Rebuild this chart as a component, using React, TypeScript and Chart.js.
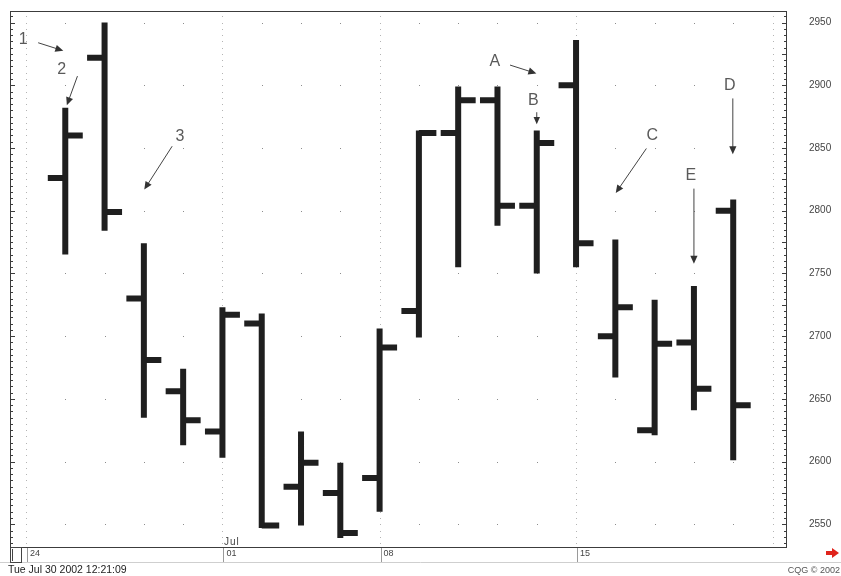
import { useEffect, useRef } from 'react';
import { Chart, registerables } from 'chart.js';

Chart.register(...registerables);

// ---- data ----
const sessions = ['Jun 24', 'Jun 25', 'Jun 26', 'Jun 27', 'Jun 28', 'Jul 01', 'Jul 02', 'Jul 03', 'Jul 05', 'Jul 08', 'Jul 09', 'Jul 10', 'Jul 11', 'Jul 12', 'Jul 15', 'Jul 16', 'Jul 17', 'Jul 18', 'Jul 19', 'Jul 22'];
const opens = [null, 2826, 2922, 2730, 2656, 2624, 2710, 2580, 2575, 2587, 2720, 2862, 2888, 2804, 2900, 2700, 2625, 2695, 2800, null];
const highs = [null, 2882, 2950, 2774, 2674, 2723, 2718, 2624, 2599, 2706, 2864, 2899, 2899, 2864, 2936, 2777, 2729, 2740, 2809, null];
const lows = [null, 2765, 2784, 2635, 2613, 2603, 2547, 2549, 2539, 2560, 2699, 2755, 2788, 2750, 2755, 2667, 2621, 2641, 2601, null];
const closes = [null, 2860, 2799, 2681, 2633, 2717, 2549, 2599, 2543, 2691, 2862, 2888, 2804, 2854, 2774, 2723, 2694, 2658, 2645, null];

const weekStartIdx = [0, 5, 9, 14];
const weekLabels = ['24', '01', '08', '15'];
const weekLines = [0, 5, 9, 14, 19];
const monthLabel = 'Jul';
const monthIdx = 5;
const priceTicks = [2550, 2600, 2650, 2700, 2750, 2800, 2850, 2900, 2950];

const noteLabels = ['1', '2', '3', 'A', 'B', 'C', 'D', 'E'];
const noteX = [-0.07, 0.91, 3.92, 11.93, 12.91, 15.94, 17.91, 16.92];
const noteY = [2936.6, 2912.6, 2859.4, 2918.6, 2888.1, 2860.2, 2899.5, 2828.2];
const arrowFromX = [0.31, 1.31, 3.72, 12.32, 13.0, 15.79, 17.99, 17.0];
const arrowFromY = [2933.9, 2907.3, 2851.4, 2916.1, 2878.5, 2849.6, 2889.5, 2817.6];
const arrowToX = [0.95, 1.04, 3.01, 12.99, 13.0, 15.01, 17.99, 17.0];
const arrowToY = [2927.5, 2884.1, 2816.8, 2909.4, 2869.0, 2814.1, 2845.0, 2757.7];

const timestamp = 'Tue Jul 30 2002 12:21:09';
const copyright = 'CQG \u00A9 2002';

// ---- rendering ----
const FONT = '"Liberation Sans", Arial, Helvetica, sans-serif';
const TICK = 0.445;
const BAR = '#1f1f1f';

type P = { x: number; y: number | null };
const rangePts: P[] = [];
const openPts: P[] = [];
const closePts: P[] = [];
sessions.forEach((_, i) => {
  if (highs[i] == null) return;
  rangePts.push({ x: i, y: lows[i] }, { x: i, y: highs[i] }, { x: i, y: null });
  openPts.push({ x: i - TICK, y: opens[i] }, { x: i, y: opens[i] }, { x: i, y: null });
  closePts.push({ x: i, y: closes[i] }, { x: i + TICK, y: closes[i] }, { x: i + TICK, y: null });
});

function arrow(ctx: CanvasRenderingContext2D, x1: number, y1: number, x2: number, y2: number) {
  const ang = Math.atan2(y2 - y1, x2 - x1);
  const len = Math.hypot(x2 - x1, y2 - y1);
  const head = Math.min(8, len * 0.6);
  const hw = head * 0.45;
  ctx.beginPath();
  ctx.moveTo(x1, y1);
  ctx.lineTo(x2 - Math.cos(ang) * head * 0.8, y2 - Math.sin(ang) * head * 0.8);
  ctx.stroke();
  ctx.beginPath();
  ctx.moveTo(x2, y2);
  ctx.lineTo(x2 - Math.cos(ang) * head + Math.sin(ang) * hw, y2 - Math.sin(ang) * head - Math.cos(ang) * hw);
  ctx.lineTo(x2 - Math.cos(ang) * head - Math.sin(ang) * hw, y2 - Math.sin(ang) * head + Math.cos(ang) * hw);
  ctx.closePath();
  ctx.fill();
}

const decor = {
  id: 'decor',
  beforeDraw(chart: any) {
    const { ctx, chartArea: a, scales } = chart;
    const x = scales.x, y = scales.y;
    ctx.save();
    ctx.fillStyle = '#ffffff';
    ctx.fillRect(0, 0, chart.width, chart.height);
    // grid dots
    ctx.fillStyle = '#8c8c8c';
    for (let i = 0; i < sessions.length; i++) {
      const px = Math.round(x.getPixelForValue(i));
      for (const v of priceTicks) {
        ctx.fillRect(px, Math.round(y.getPixelForValue(v)), 1, 1);
      }
    }
    // dotted week separators
    ctx.fillStyle = '#b4b4b4';
    for (const i of weekLines) {
      const px = Math.round(x.getPixelForValue(i));
      for (let v = 2535; v <= 2955; v += 5) {
        const py = Math.round(y.getPixelForValue(v));
        if (py > a.top && py < a.bottom) ctx.fillRect(px, py, 1, 1);
      }
    }
    ctx.restore();
  },
  afterDraw(chart: any) {
    const { ctx, chartArea: a, scales } = chart;
    const x = scales.x, y = scales.y;
    ctx.save();
    // frame
    ctx.strokeStyle = '#3c3c3c';
    ctx.lineWidth = 1;
    ctx.strokeRect(a.left + 0.5, a.top + 0.5, a.right - a.left - 1, a.bottom - a.top);
    // border ticks
    ctx.beginPath();
    for (let v = 2535; v <= 2955; v += 5) {
      const py = Math.round(y.getPixelForValue(v)) + 0.5;
      if (py <= a.top + 1 || py >= a.bottom - 1) continue;
      const lenL = v % 50 === 0 ? 5 : 3;
      const lenR = v % 25 === 0 ? 5 : 3;
      ctx.moveTo(a.left, py);
      ctx.lineTo(a.left + lenL, py);
      ctx.moveTo(a.right, py);
      ctx.lineTo(a.right - lenR, py);
    }
    ctx.stroke();
    // date row
    ctx.strokeStyle = '#cfcfcf';
    ctx.beginPath();
    ctx.moveTo(0, a.bottom + 15.5);
    ctx.lineTo(chart.width, a.bottom + 15.5);
    ctx.stroke();
    ctx.strokeStyle = '#9a9a9a';
    ctx.beginPath();
    for (const i of weekStartIdx) {
      const px = Math.round(x.getPixelForValue(i)) + 1.5;
      ctx.moveTo(px, a.bottom + 1);
      ctx.lineTo(px, a.bottom + 15);
    }
    ctx.stroke();
    ctx.strokeStyle = '#444';
    ctx.strokeRect(a.left + 0.5, a.bottom + 0.5, 11, 15);
    ctx.beginPath();
    ctx.moveTo(a.left + 2.5, a.bottom + 2);
    ctx.lineTo(a.left + 2.5, a.bottom + 14);
    ctx.stroke();
    // red arrow
    ctx.fillStyle = '#e0241c';
    ctx.fillRect(826, 551, 7, 4);
    ctx.beginPath();
    ctx.moveTo(832, 548);
    ctx.lineTo(839, 553);
    ctx.lineTo(832, 558);
    ctx.closePath();
    ctx.fill();
    // texts
    ctx.textBaseline = 'middle';
    ctx.textAlign = 'left';
    ctx.fillStyle = '#444';
    ctx.font = `10px ${FONT}`;
    (ctx as any).letterSpacing = '1px';
    ctx.fillText(monthLabel, Math.round(x.getPixelForValue(monthIdx)) + 2, a.bottom - 5);
    (ctx as any).letterSpacing = '0px';
    ctx.fillStyle = '#222';
    ctx.font = `10.5px ${FONT}`;
    ctx.fillText(timestamp, 8, 570);
    ctx.textAlign = 'right';
    ctx.fillStyle = '#555';
    ctx.font = `9px ${FONT}`;
    ctx.fillText(copyright, 840, 571);
    // annotations
    ctx.strokeStyle = '#444';
    ctx.lineWidth = 1;
    ctx.font = `16px ${FONT}`;
    ctx.textAlign = 'center';
    noteLabels.forEach((t, k) => {
      ctx.fillStyle = '#5a5a5a';
      ctx.fillText(t, x.getPixelForValue(noteX[k]), y.getPixelForValue(noteY[k]));
      ctx.fillStyle = '#333';
      arrow(ctx, x.getPixelForValue(arrowFromX[k]), y.getPixelForValue(arrowFromY[k]), x.getPixelForValue(arrowToX[k]), y.getPixelForValue(arrowToY[k]));
    });
    ctx.restore();
  },
};

const lineDs = (data: P[]) => ({
  data,
  borderColor: BAR,
  backgroundColor: BAR,
  borderWidth: 6,
  pointRadius: 0,
  pointHoverRadius: 0,
  tension: 0,
  fill: false,
  spanGaps: false,
  borderCapStyle: 'butt' as const,
  borderJoinStyle: 'miter' as const,
});

export default function App() {
  const ref = useRef<HTMLCanvasElement>(null);
  useEffect(() => {
    const chart = new Chart(ref.current!, {
      type: 'line',
      data: { datasets: [lineDs(rangePts), lineDs(openPts), lineDs(closePts)] as any },
      plugins: [decor],
      options: {
        responsive: false,
        animation: false,
        events: [],
        layout: { padding: { left: 10, top: 11, right: 0, bottom: 13 } },
        plugins: { legend: { display: false }, tooltip: { enabled: false } },
        scales: {
          x: {
            type: 'linear',
            min: -0.407,
            max: 19.369,
            afterBuildTicks: (s: any) => {
              s.ticks = weekStartIdx.map((v) => ({ value: v }));
            },
            afterFit: (s: any) => {
              s.height = 16;
            },
            grid: { display: false, drawTicks: false },
            border: { display: false },
            ticks: {
              autoSkip: false,
              maxRotation: 0,
              align: 'start',
              labelOffset: 4,
              padding: 1,
              color: '#444',
              font: { size: 9, family: FONT },
              callback: (_v: any, i: number) => weekLabels[i] ?? '',
            },
          },
          y: {
            type: 'linear',
            position: 'right',
            min: 2531.9,
            max: 2959.2,
            afterBuildTicks: (s: any) => {
              s.ticks = priceTicks.map((v) => ({ value: v }));
            },
            afterFit: (s: any) => {
              s.width = 54;
            },
            grid: { display: true, drawOnChartArea: false, drawTicks: true, tickLength: 18, tickColor: 'rgba(0,0,0,0)' },
            border: { display: false },
            ticks: {
              padding: 4,
              color: '#444',
              font: { size: 10, family: FONT },
              callback: (v: any) => String(v),
            },
          },
        },
      },
    });
    return () => chart.destroy();
  }, []);
  return (
    <div style={{ position: 'fixed', left: 0, top: 0, width: 841, height: 576, background: '#fff' }}>
      <canvas ref={ref} width={841} height={576} style={{ display: 'block', width: 841, height: 576 }} />
    </div>
  );
}
